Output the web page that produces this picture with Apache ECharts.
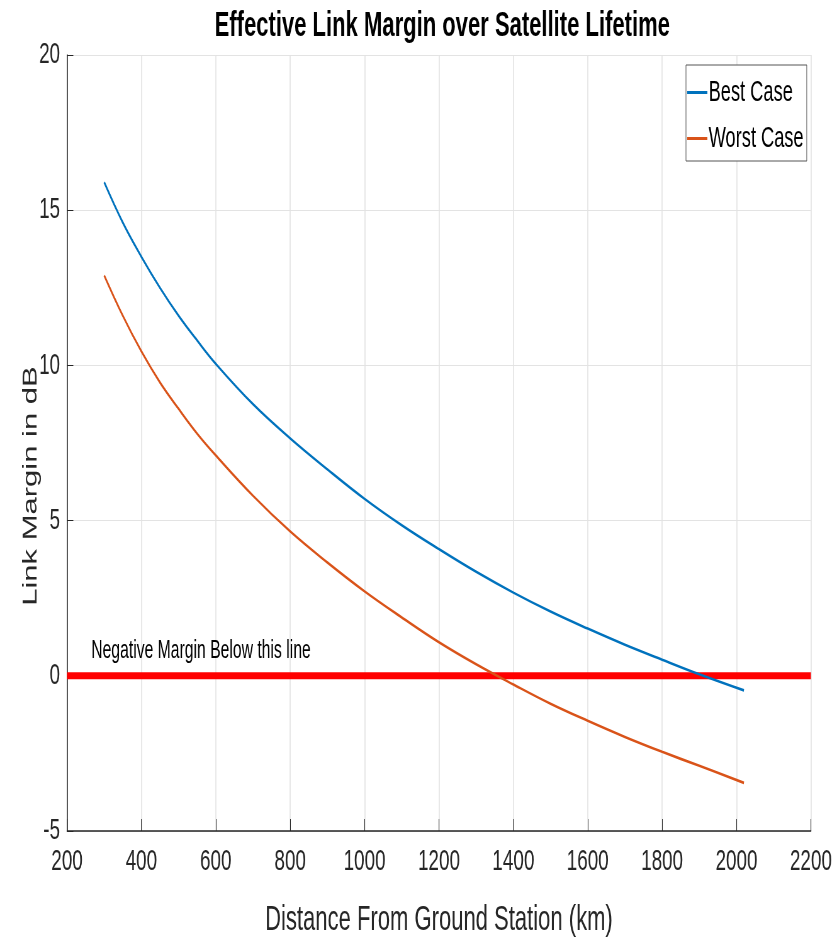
<!DOCTYPE html>
<html>
<head>
<meta charset="utf-8">
<script src="https://cdn.jsdelivr.net/npm/echarts@6/dist/echarts.min.js"></script>
<style>
html, body { margin: 0; padding: 0; overflow: hidden; background: #fff; }
#chart { width: 1330px; height: 943px; transform: scaleX(0.62932); transform-origin: 0 0; }
</style>
</head>
<body>
<div id="chart"></div>
<script>
// values
var distance = [300, 350, 400, 450, 500, 550, 600, 700, 800, 900, 1000, 1100, 1200, 1300, 1400, 1500, 1600, 1700, 1800, 1900, 2020];
var bestCase = [15.9, 14.6, 13.5, 12.5, 11.6, 10.8, 10.05, 8.75, 7.65, 6.65, 5.7, 4.85, 4.08, 3.35, 2.68, 2.07, 1.52, 1.0, 0.52, 0.05, -0.47];
var worstCase = [12.9, 11.6, 10.45, 9.45, 8.6, 7.8, 7.1, 5.8, 4.65, 3.65, 2.72, 1.88, 1.08, 0.37, -0.28, -0.9, -1.45, -1.97, -2.45, -2.9, -3.45];
var zeroLine = [[200, 0], [2200, 0]];
var noteText = 'Negative Margin Below this line';
var notePos = [265, 0.8];

function pairs(xs, ys) {
    return xs.map(function (x, i) { return [x, ys[i]]; });
}

var font = 'Liberation Sans, Arial, sans-serif';
var chart = echarts.init(document.getElementById('chart'));

chart.setOption({
    animation: false,
    title: {
        text: 'Effective Link Margin over Satellite Lifetime',
        left: 336,
        top: 4,
        textStyle: { fontFamily: font, fontSize: 35, fontWeight: 'bold', color: '#000' }
    },
    legend: {
        data: ['Best Case', 'Worst Case'],
        orient: 'vertical',
        left: 1090,
        top: 65,
        padding: [13, 5, 8, 2],
        itemGap: 17,
        itemWidth: 32,
        itemHeight: 3,
        icon: 'rect',
        borderColor: '#555',
        borderWidth: 1,
        backgroundColor: '#fff',
        textStyle: { fontFamily: font, fontSize: 29, color: '#000', padding: [0, 0, 0, -3] }
    },
    grid: { left: 106.5, right: 41.5, top: 55, bottom: 112, containLabel: false, outerBoundsMode: 'none' },
    xAxis: {
        type: 'value',
        min: 200,
        max: 2200,
        interval: 200,
        name: 'Distance From Ground Station (km)',
        nameLocation: 'middle',
        nameGap: 72,
        nameMoveOverlap: false,
        nameTextStyle: { fontFamily: font, fontSize: 35, color: '#262626' },
        axisLine: { show: true, onZero: false, lineStyle: { color: '#262626', width: 1.5 } },
        axisTick: { show: true, inside: true, length: 12, lineStyle: { color: '#262626' } },
        axisLabel: {
            fontFamily: font, fontSize: 30, color: '#262626', margin: 16,
            formatter: function (v) { return String(v); }
        },
        splitLine: { show: true, lineStyle: { color: '#e3e3e3', width: 1.6 } }
    },
    yAxis: {
        type: 'value',
        min: -5,
        max: 20,
        interval: 5,
        name: 'Link Margin in dB',
        nameLocation: 'middle',
        nameGap: 42,
        nameMoveOverlap: false,
        nameTextStyle: { fontFamily: font, fontSize: 31, color: '#262626', padding: [0, 86, 0, 0] },
        axisLine: { show: true, onZero: false, lineStyle: { color: '#262626', width: 1.5 } },
        axisTick: { show: true, inside: true, length: 10, lineStyle: { color: '#262626' } },
        axisLabel: { fontFamily: font, fontSize: 30, color: '#262626', margin: 11 },
        splitLine: { show: true, lineStyle: { color: '#e3e3e3', width: 1 } }
    },
    series: [
        {
            name: 'zero',
            type: 'line',
            data: zeroLine,
            showSymbol: false,
            lineStyle: { color: '#ff0000', width: 7 },
            itemStyle: { color: '#ff0000' },
            markPoint: {
                symbolSize: 0,
                data: [{ coord: notePos }],
                label: {
                    show: true,
                    position: 'right',
                    distance: 0,
                    formatter: noteText,
                    fontFamily: font,
                    fontSize: 25,
                    color: '#000'
                }
            }
        },
        {
            name: 'Best Case',
            type: 'line',
            data: pairs(distance, bestCase),
            smooth: 0.4,
            showSymbol: false,
            lineStyle: { color: '#0072bd', width: 2.6 },
            itemStyle: { color: '#0072bd' }
        },
        {
            name: 'Worst Case',
            type: 'line',
            data: pairs(distance, worstCase),
            smooth: 0.4,
            showSymbol: false,
            lineStyle: { color: '#d95319', width: 2.6 },
            itemStyle: { color: '#d95319' }
        }
    ]
});
</script>
</body>
</html>
